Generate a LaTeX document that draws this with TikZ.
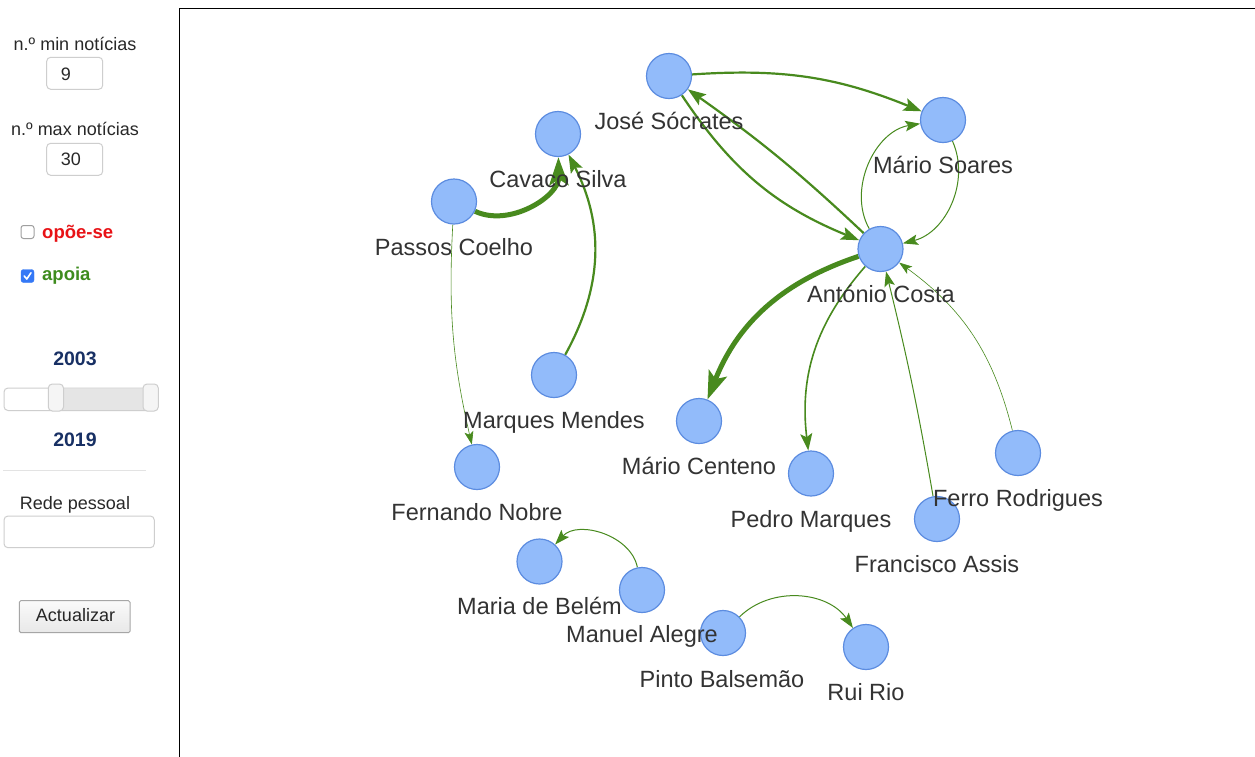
\documentclass[tikz,border=0pt]{standalone}
\usepackage{fontspec}
\setmainfont{Liberation Sans}
\usetikzlibrary{arrows.meta,shadings}
\definecolor{ecol}{RGB}{72,138,30}
\definecolor{nfill}{RGB}{146,187,250}
\definecolor{ndraw}{RGB}{92,140,224}
\definecolor{lcol}{RGB}{51,51,51}
\definecolor{pcol}{RGB}{40,40,40}
\definecolor{redc}{RGB}{232,18,22}
\definecolor{greenc}{RGB}{62,140,30}
\definecolor{yearc}{RGB}{24,48,100}
\definecolor{boxc}{RGB}{206,206,206}
\definecolor{chkb}{RGB}{52,120,246}
\pgfdeclarelayer{back}
\pgfdeclarelayer{bg}
\pgfsetlayers{back,bg,main}
\tikzset{
  pnode/.style={circle,fill=nfill,draw=ndraw,line width=1.2pt,minimum size=45pt,inner sep=0pt},
  lbl/.style={font=\fontsize{23.5}{26}\selectfont,text=lcol,inner sep=0pt,anchor=base},
  ptxt/.style={font=\fontsize{18}{21}\selectfont,text=pcol,inner sep=0pt,anchor=base},
  pbold/.style={font=\fontsize{18.5}{21}\selectfont\bfseries,inner sep=0pt,anchor=base west},
  ybold/.style={font=\fontsize{19.5}{22}\selectfont\bfseries,text=yearc,inner sep=0pt,anchor=base},
  inbox/.style={draw=boxc,fill=white,line width=1pt,rounded corners=4pt},
  ethick/.style={draw=ecol,line width=5pt,-{Stealth[length=28pt,width=19pt,inset=6pt]}},
  emid/.style={draw=ecol,line width=2.2pt,-{Stealth[length=18pt,width=13pt,inset=3.5pt]}},
  emed/.style={draw=ecol,line width=1.6pt,-{Stealth[length=17pt,width=12pt,inset=3.5pt]}},
  ethin/.style={draw=ecol,line width=1pt,-{Stealth[length=15pt,width=10.5pt,inset=3pt]}},
  ehair/.style={draw=ecol,line width=0.6pt,-{Stealth[length=13pt,width=9pt,inset=3pt]}},
}
\begin{document}
\begin{tikzpicture}[x=1pt,y=1pt]
\useasboundingbox (0,0) rectangle (1255,-756);
\begin{pgfonlayer}{back}
\fill[white] (0,0) rectangle (1255,-756);
\end{pgfonlayer}

% frame of the graph area
\draw[line width=1.6pt] (179.5,-757) -- (179.5,-8.5) -- (1256,-8.5);

% ---------- left panel ----------
\node[ptxt] (minl) at (75,-50) {n.º min notícias};
\draw[inbox] (46.7,-57.3) rectangle (102.7,-89.3);
\node[ptxt] (minv) at (66,-80) {9};
\node[ptxt] (maxl) at (75,-135.5) {n.º max notícias};
\draw[inbox] (46.7,-143.3) rectangle (102.7,-175.3);
\node[ptxt] (maxv) at (71,-165.7) {30};

\draw[draw=gray!75,line width=1pt,rounded corners=2.5pt,fill=white] (21,-225.5) rectangle (34,-238.5);
\node[pbold,text=redc] (opo) at (42,-238) {opõe-se};
\draw[draw=chkb,fill=chkb,rounded corners=2.5pt] (21,-269.5) rectangle (34,-282.5);
\draw[white,line width=1.6pt,line cap=round,line join=round] (24.2,-276) -- (26.8,-279) -- (31,-272.8);
\node[pbold,text=greenc] (apo) at (42,-280) {apoia};

\node[ybold] (y1) at (75,-365) {2003};
\draw[draw=boxc,fill=white,line width=1pt,rounded corners=4pt] (4,-388) rectangle (158,-410.5);
\fill[gray!20] (62,-388.6) rectangle (144,-409.9);
\draw[draw=boxc,fill=gray!8,line width=1pt,rounded corners=4pt] (48.3,-384) rectangle (63.5,-411);
\draw[draw=boxc,fill=gray!8,line width=1pt,rounded corners=4pt] (143,-384) rectangle (158.3,-411);
\node[ybold] (y2) at (75,-446.7) {2019};
\draw[gray!22,line width=1pt] (3,-470.7) -- (146,-470.7);
\node[ptxt] (rede) at (75,-509.3) {Rede pessoal};
\draw[inbox] (4,-516) rectangle (154.3,-547.7);
\draw[draw=gray!70,line width=1pt,rounded corners=1.5pt,top color=gray!4,bottom color=gray!18] (19.3,-600.7) rectangle (130,-632.7);
\node[ptxt,text=black!85] (act) at (75.5,-621.7) {Actualizar};

% ---------- nodes ----------
\node[pnode] (js) at (669,-76) {};
\node[pnode] (ms) at (943,-120) {};
\node[pnode] (cs) at (558,-134) {};
\node[pnode] (pc) at (454,-201.5) {};
\node[pnode] (ac) at (880.5,-249) {};
\node[pnode] (mm) at (554,-375) {};
\node[pnode] (mc) at (699,-421) {};
\node[pnode] (pm) at (811,-473.5) {};
\node[pnode] (fr) at (1018,-453) {};
\node[pnode] (fa) at (937,-519) {};
\node[pnode] (fn) at (477,-467) {};
\node[pnode] (mb) at (539.5,-561.5) {};
\node[pnode] (ma) at (642,-590) {};
\node[pnode] (pb) at (723,-633) {};
\node[pnode] (rr) at (866,-647) {};

% ---------- labels ----------
\node[lbl] (jsl) at (669,-129) {José Sócrates};
\node[lbl] (msl) at (943,-173.5) {Mário Soares};
\node[lbl] (csl) at (558,-187) {Cavaco Silva};
\node[lbl] (pcl) at (454,-255) {Passos Coelho};
\node[lbl] (acl) at (881,-302) {António Costa};
\node[lbl] (mml) at (554,-428.5) {Marques Mendes};
\node[lbl] (mcl) at (699,-474.5) {Mário Centeno};
\node[lbl] (pml) at (811,-527) {Pedro Marques};
\node[lbl] (frl) at (1018,-506.5) {Ferro Rodrigues};
\node[lbl] (fal) at (937,-572.5) {Francisco Assis};
\node[lbl] (fnl) at (477,-520.5) {Fernando Nobre};
\node[lbl] (mbl) at (539.5,-614.5) {Maria de Belém};
\node[lbl] (mal) at (642,-642.5) {Manuel Alegre};
\node[lbl] (pbl) at (722,-687) {Pinto Balsemão};
\node[lbl] (rrl) at (866,-700.5) {Rui Rio};

% ---------- edges ----------
\begin{pgfonlayer}{bg}
\draw[emid] (js) to[bend left=13] (ms);
\draw[emid] (js) to[bend right=17] (ac);
\draw[emid] (ac) to[bend right=4] (js);
\draw[ethin] (ac) to[bend left=55] (ms);
\draw[ethin] (ms) to[bend left=50] (ac);
\draw[ethick] (pc) to[bend right=58] (cs);
\draw[emid] (mm) to[bend right=28] (cs);
\draw[ehair] (pc) to[bend right=8] (fn);
\draw[ethick] (ac) to[bend right=25] (mc);
\draw[emed] (ac) to[bend right=24] (pm);
\draw[ethin] (fa) to[bend right=2] (ac);
\draw[ehair] (fr) to[bend right=20] (ac);
\draw[ethin] (ma) to[bend right=63] (mb);
\draw[ethin] (pb) to[bend left=50] (rr);
\end{pgfonlayer}
\end{tikzpicture}
\end{document}
